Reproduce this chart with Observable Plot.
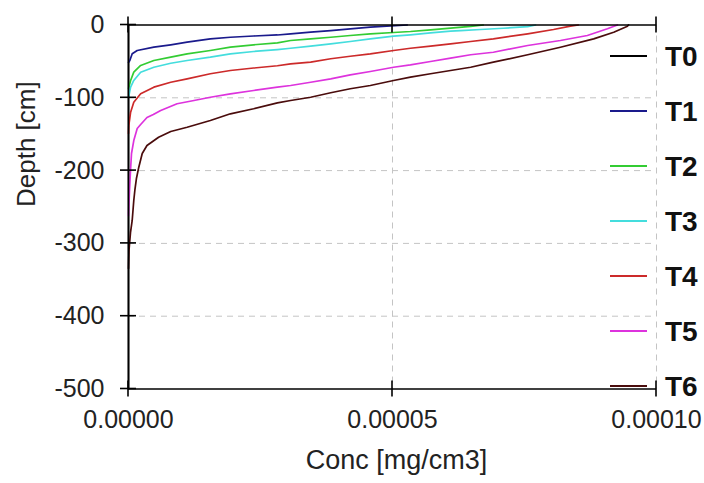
<!DOCTYPE html>
<html><head><meta charset="utf-8">
<script src="https://cdn.jsdelivr.net/npm/d3@7"></script>
<script src="https://cdn.jsdelivr.net/npm/@observablehq/plot@0.6"></script>
<style>html,body{margin:0;padding:0;background:#fff;} svg{display:block;}</style>
</head><body><div id="chart"></div>
<script>
const seriesNames = ["T0", "T1", "T2", "T3", "T4", "T5", "T6"];
const seriesColors = ["#000000", "#1a1a8c", "#33cc33", "#44dddd", "#cc2a2a", "#dd33dd", "#4a0c0c"];

const t0Conc = [0, 0];
const t0Depth = [0, -500];
const t1Conc = [5.28e-5, 4.58e-5, 4.20e-5, 3.83e-5, 3.45e-5, 3.07e-5, 2.82e-5, 2.37e-5, 1.93e-5, 1.55e-5, 1.11e-5, 0.80e-5, 0.48e-5, 0.165e-5, 0.07e-5, 0.025e-5, 0];
const t1Depth = [0, -3, -5.2, -7.6, -9.9, -12.1, -13.7, -15.1, -16.8, -19, -23.6, -27.2, -30.5, -35, -39.6, -48.8, -51.5];
const t2Conc = [6.72e-5, 6.48e-5, 6.10e-5, 5.72e-5, 5.34e-5, 5.02e-5, 4.58e-5, 4.20e-5, 3.83e-5, 3.45e-5, 3.07e-5, 2.82e-5, 2.37e-5, 1.93e-5, 1.55e-5, 1.11e-5, 0.80e-5, 0.48e-5, 0.23e-5, 0.10e-5, 0.04e-5, 0];
const t2Depth = [0, -2, -4.4, -6.6, -8.9, -10.3, -12.1, -14.4, -16.8, -19, -21.3, -24.5, -27.2, -30.5, -35, -39.6, -44.2, -48.8, -55.6, -64.8, -76.2, -87.2];
const t3Conc = [7.71e-5, 7.56e-5, 7.10e-5, 6.67e-5, 6.29e-5, 6.10e-5, 5.72e-5, 5.34e-5, 5.02e-5, 4.58e-5, 4.20e-5, 3.83e-5, 3.45e-5, 3.07e-5, 2.82e-5, 2.37e-5, 1.93e-5, 1.55e-5, 1.11e-5, 0.80e-5, 0.48e-5, 0.23e-5, 0.10e-5, 0.04e-5, 0];
const t3Depth = [0, -2.3, -4.5, -6.2, -7.6, -8.5, -10.7, -13.5, -15.4, -19, -22.7, -25.8, -29.1, -31.9, -33.7, -36.4, -39.6, -44.2, -48.8, -52.5, -58, -64.8, -76.2, -85.4, -99.6];
const t4Conc = [8.52e-5, 8.37e-5, 8.05e-5, 7.56e-5, 6.91e-5, 6.48e-5, 6.10e-5, 5.72e-5, 5.34e-5, 5.02e-5, 4.58e-5, 4.20e-5, 3.83e-5, 3.45e-5, 3.07e-5, 2.82e-5, 2.37e-5, 1.93e-5, 1.55e-5, 1.11e-5, 0.80e-5, 0.48e-5, 0.23e-5, 0.10e-5, 0.04e-5, 0.006e-5, 0];
const t4Depth = [0, -1.6, -6.2, -12.1, -19, -22.7, -25.8, -29.1, -31.9, -35, -39.6, -42.9, -46.4, -51.1, -53.5, -56, -59.1, -62.5, -67, -73.9, -78.6, -85.4, -94.5, -106, -119.8, -138, -149];
const t5Conc = [9.26e-5, 9.07e-5, 8.69e-5, 8.18e-5, 7.56e-5, 6.91e-5, 6.48e-5, 6.10e-5, 5.72e-5, 5.34e-5, 5.02e-5, 4.58e-5, 4.20e-5, 3.83e-5, 3.45e-5, 3.07e-5, 2.82e-5, 2.37e-5, 1.93e-5, 1.55e-5, 1.24e-5, 0.92e-5, 0.61e-5, 0.47e-5, 0.35e-5, 0.23e-5, 0.165e-5, 0.10e-5, 0.057e-5, 0.038e-5, 0.019e-5, 0];
const t5Depth = [0, -5.2, -14.4, -21.3, -28.2, -37.4, -40.9, -45.6, -50.1, -54.7, -58, -63.9, -68.4, -73.9, -78.6, -83.1, -85.4, -90, -94.5, -99.2, -103.7, -108.2, -117.4, -122.9, -127, -136.7, -142.2, -158.7, -176.5, -199.9, -227.3, -262];
const t6Conc = [9.47e-5, 9.45e-5, 9.19e-5, 8.81e-5, 8.18e-5, 7.56e-5, 6.91e-5, 6.48e-5, 6.10e-5, 5.72e-5, 5.34e-5, 5.02e-5, 4.58e-5, 4.20e-5, 3.83e-5, 3.45e-5, 3.07e-5, 2.82e-5, 2.37e-5, 1.93e-5, 1.55e-5, 1.11e-5, 0.80e-5, 0.57e-5, 0.35e-5, 0.26e-5, 0.195e-5, 0.15e-5, 0.12e-5, 0.10e-5, 0.07e-5, 0.038e-5, 0.009e-5, 0];
const t6Depth = [0, -1.6, -9.9, -19, -30.5, -40.9, -51.1, -58, -62.5, -67, -71.7, -76.2, -83.1, -87.6, -93.1, -99.2, -103.7, -106.9, -115.1, -122, -131.2, -140.4, -146.3, -154.1, -165.5, -176.5, -195.3, -210.9, -227.3, -241.1, -268.5, -285, -309.7, -334.5];

const xTicks = [0, 0.00005, 0.0001];
const xTickLabels = ["0.00000", "0.00005", "0.00010"];
const yTicks = [0, -100, -200, -300, -400, -500];
const yTickLabels = ["0", "-100", "-200", "-300", "-400", "-500"];
const xLabel = "Conc [mg/cm3]";
const yLabel = "Depth [cm]";

const concs = [t0Conc, t1Conc, t2Conc, t3Conc, t4Conc, t5Conc, t6Conc];
const depths = [t0Depth, t1Depth, t2Depth, t3Depth, t4Depth, t5Depth, t6Depth];
const rows = [];
concs.forEach((arr, s) => arr.forEach((c, i) => rows.push({series: seriesNames[s], conc: c, depth: depths[s][i]})));

const textColor = "#222";
const tickHalf = 8;

function crossTicks(index, scales, values, dims) {
  const x = scales.x, y = scales.y;
  const g = d3.create("svg:g").attr("stroke", "#000").attr("stroke-width", 1.6);
  const ends = [yTicks[0], yTicks[yTicks.length - 1]];
  for (const t of xTicks) for (const d of ends) {
    g.append("line").attr("x1", x(t)).attr("x2", x(t)).attr("y1", y(d) - tickHalf).attr("y2", y(d) + tickHalf);
  }
  for (const d of yTicks) {
    g.append("line").attr("x1", x(xTicks[0]) - tickHalf).attr("x2", x(xTicks[0]) + tickHalf).attr("y1", y(d)).attr("y2", y(d));
  }
  return g.node();
}

function legend(index, scales, values, dims) {
  const g = d3.create("svg:g").attr("text-anchor", "start");
  const xr = scales.x(xTicks[xTicks.length - 1]);
  seriesNames.forEach((name, i) => {
    const yy = dims.marginTop + 31.5 + i * 55;
    g.append("line").attr("x1", xr - 46).attr("x2", xr - 9).attr("y1", yy).attr("y2", yy)
      .attr("stroke", seriesColors[i]).attr("stroke-width", 1.8);
    g.append("text").attr("x", xr + 9).attr("y", yy).attr("dy", "0.36em").attr("text-anchor", "start")
      .attr("font-weight", "bold").attr("font-size", 28).attr("fill", "#111").text(name);
  });
  return g.node();
}

const chart = Plot.plot({
  width: 704,
  height: 483,
  marginLeft: 128,
  marginRight: 48,
  marginTop: 24.5,
  marginBottom: 94.5,
  style: {fontFamily: "'Liberation Sans', Arial, sans-serif", background: "#fff"},
  x: {domain: [0, 0.0001], axis: null},
  y: {domain: [-500, 0], axis: null},
  color: {domain: seriesNames, range: seriesColors},
  marks: [
    Plot.ruleX(xTicks.slice(1), {stroke: "#c4c4c4", strokeDasharray: "6,5", strokeWidth: 1}),
    Plot.ruleY(yTicks.slice(1, -1), {stroke: "#c4c4c4", strokeDasharray: "6,5", strokeWidth: 1}),
    Plot.line(rows, {x: "conc", y: "depth", z: "series", stroke: "series", strokeWidth: 1.7}),
    Plot.ruleX([xTicks[0]], {stroke: "#000", strokeWidth: 1.6}),
    Plot.ruleY([yTicks[0], yTicks[yTicks.length - 1]], {stroke: "#000", strokeWidth: 1.6}),
    crossTicks,
    Plot.text(xTicks, {x: d => d, text: (d, i) => xTickLabels[i], frameAnchor: "bottom", dy: 39, fontSize: 25, fill: textColor}),
    Plot.text(yTicks, {y: d => d, text: (d, i) => yTickLabels[i], frameAnchor: "left", dx: -24, textAnchor: "end", fontSize: 25, fill: textColor}),
    Plot.text([yLabel], {text: d => d, frameAnchor: "left", dx: -102, rotate: -90, fontSize: 26, fill: textColor}),
    Plot.text([xLabel], {text: d => d, frameAnchor: "bottom", dy: 80, dx: 4, fontSize: 27, fill: textColor}),
    legend
  ]
});
document.getElementById("chart").appendChild(chart);
</script>
</body></html>
